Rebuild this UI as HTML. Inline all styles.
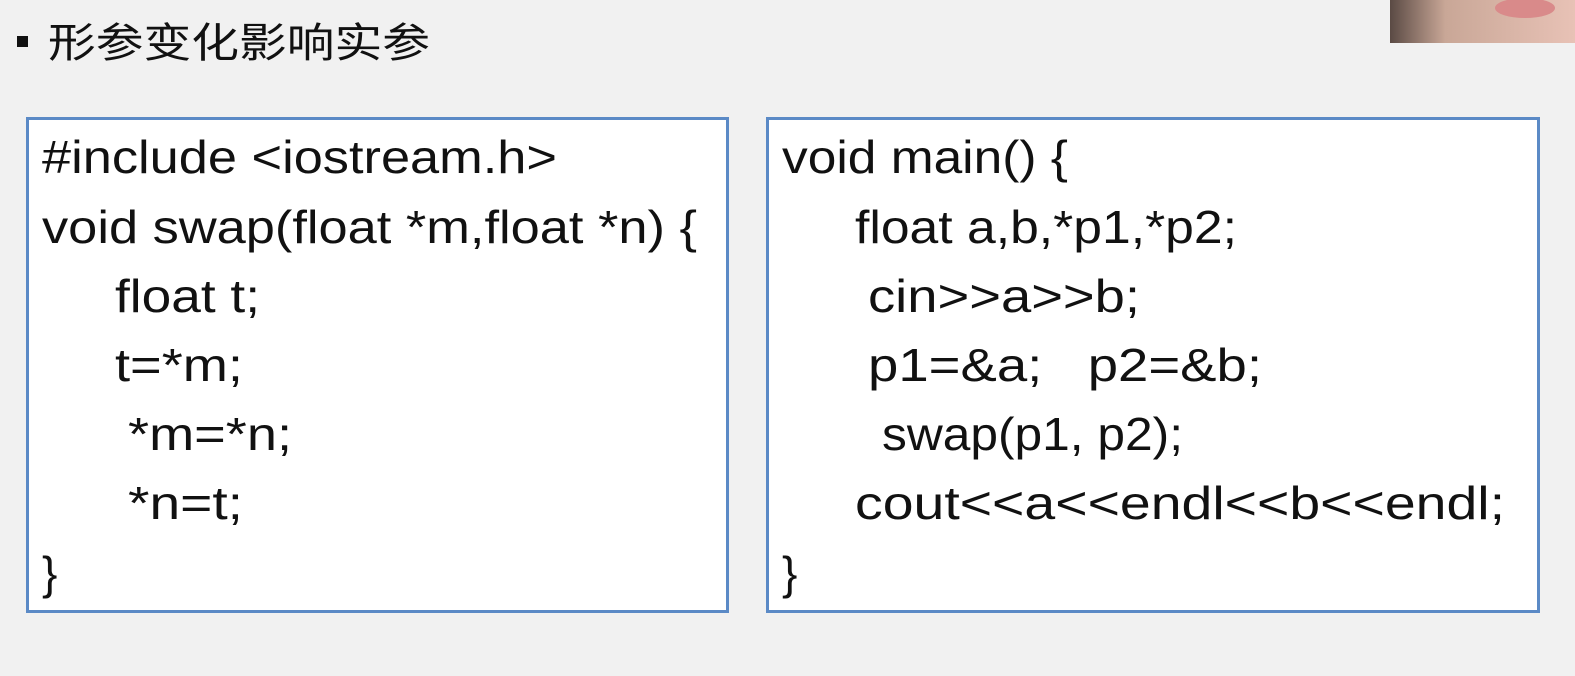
<!DOCTYPE html>
<html><head><meta charset="utf-8"><style>
html,body{margin:0;padding:0;background:#f1f1f1;width:1575px;height:676px;overflow:hidden}
svg{display:block}
</style></head><body>
<svg width="1575" height="676" xmlns="http://www.w3.org/2000/svg">
<rect width="1575" height="676" fill="#f1f1f1"/>
<defs><linearGradient id="g" x1="0" x2="1"><stop offset="0" stop-color="#5a4a44"/><stop offset="0.3" stop-color="#c9a797"/><stop offset="1" stop-color="#e8c2b6"/></linearGradient></defs>
<rect x="1390" y="0" width="185" height="43" fill="url(#g)"/>
<ellipse cx="1525" cy="8" rx="30" ry="10" fill="#d98a8a"/>
<rect x="17" y="36" width="11" height="11" fill="#111"/>
<text x="48" y="57" font-family="Liberation Sans, Noto Sans CJK SC, sans-serif" font-size="41" fill="#111" textLength="382" lengthAdjust="spacingAndGlyphs">形参变化影响实参</text>
<rect x="27.5" y="118.5" width="700" height="493" fill="#fff" stroke="#5b8ac6" stroke-width="3"/>
<rect x="767.5" y="118.5" width="771" height="493" fill="#fff" stroke="#5b8ac6" stroke-width="3"/>
<g font-family="Liberation Sans, sans-serif" font-size="46" fill="#111">
<text x="42" y="173" textLength="515" lengthAdjust="spacingAndGlyphs">#include &lt;iostream.h&gt;</text>
<text x="42" y="243" textLength="655" lengthAdjust="spacingAndGlyphs">void swap(float *m,float *n) {</text>
<text x="115" y="312" textLength="145" lengthAdjust="spacingAndGlyphs">float t;</text>
<text x="115" y="381" textLength="128" lengthAdjust="spacingAndGlyphs">t=*m;</text>
<text x="128" y="450" textLength="164" lengthAdjust="spacingAndGlyphs">*m=*n;</text>
<text x="128" y="519" textLength="115" lengthAdjust="spacingAndGlyphs">*n=t;</text>
<text x="42" y="589">}</text>
<text x="782" y="173" textLength="286" lengthAdjust="spacingAndGlyphs">void main() {</text>
<text x="855" y="243" textLength="382" lengthAdjust="spacingAndGlyphs">float a,b,*p1,*p2;</text>
<text x="868" y="312" textLength="272" lengthAdjust="spacingAndGlyphs">cin&gt;&gt;a&gt;&gt;b;</text>
<text x="868" y="381" textLength="394" lengthAdjust="spacingAndGlyphs" xml:space="preserve">p1=&amp;a;   p2=&amp;b;</text>
<text x="882" y="450" textLength="301" lengthAdjust="spacingAndGlyphs">swap(p1, p2);</text>
<text x="855" y="519" textLength="650" lengthAdjust="spacingAndGlyphs">cout&lt;&lt;a&lt;&lt;endl&lt;&lt;b&lt;&lt;endl;</text>
<text x="782" y="589">}</text>
</g>
</svg>
</body></html>
